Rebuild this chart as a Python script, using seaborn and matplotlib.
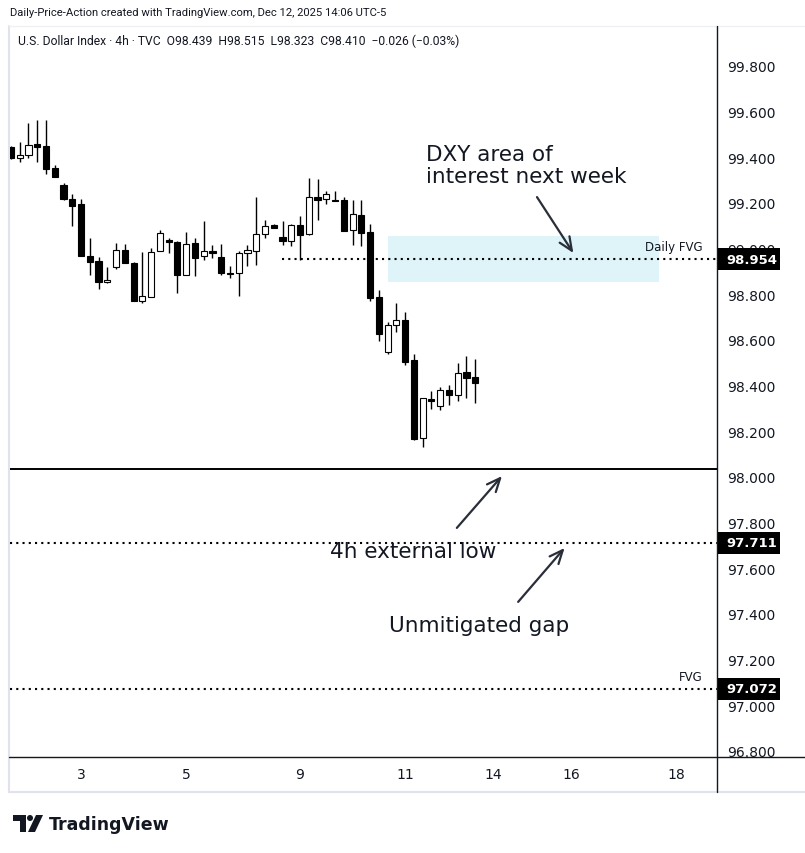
import numpy as np
import pandas as pd
import matplotlib
matplotlib.use('Agg')
import matplotlib.pyplot as plt
import matplotlib.transforms as mtransforms
from matplotlib.patches import Rectangle, Polygon, Circle
import seaborn as sns

sns.set_theme(style='white')
plt.rcParams['font.family'] = ['DejaVu Sans']

# ---------------- data ----------------
opens = [99.445, 99.396, 99.409, 99.458, 99.448, 99.353, 99.277, 99.217, 99.194, 98.967,
         98.945, 98.853, 98.918, 98.993, 98.937, 98.772, 98.790, 98.988, 99.038, 99.029,
         98.883, 99.025, 98.966, 98.990, 98.962, 98.893, 98.892, 98.980, 98.988, 99.063,
         99.102, 99.050, 99.035, 99.102, 99.063, 99.225, 99.216, 99.213, 99.212, 99.080,
         99.146, 99.072, 98.788, 98.549, 98.664, 98.686, 98.511, 98.169, 98.342, 98.312,
         98.380, 98.358, 98.460, 98.439]
highs = [99.450, 99.466, 99.550, 99.564, 99.564, 99.366, 99.288, 99.239, 99.217, 99.047,
         98.962, 98.918, 99.023, 99.020, 98.943, 98.985, 99.002, 99.082, 99.048, 99.032,
         99.073, 99.047, 99.121, 99.016, 99.020, 98.924, 98.990, 99.015, 99.226, 99.126,
         99.108, 99.121, 99.108, 99.143, 99.309, 99.305, 99.253, 99.253, 99.225, 99.212,
         99.212, 99.108, 98.819, 98.678, 98.761, 98.721, 98.539, 98.345, 98.377, 98.394,
         98.403, 98.499, 98.529, 98.515]
lows = [99.393, 99.378, 99.396, 99.378, 99.328, 99.315, 99.214, 99.101, 98.966, 98.886,
        98.822, 98.848, 98.910, 98.936, 98.772, 98.763, 98.790, 98.988, 98.982, 98.806,
        98.883, 98.882, 98.952, 98.959, 98.886, 98.873, 98.794, 98.923, 98.930, 99.048,
        99.092, 99.017, 99.013, 98.952, 99.059, 99.127, 99.194, 99.207, 99.076, 99.018,
        99.010, 98.770, 98.594, 98.537, 98.636, 98.492, 98.163, 98.133, 98.298, 98.293,
        98.315, 98.332, 98.346, 98.323]
closes = [99.396, 99.409, 99.454, 99.444, 99.350, 99.315, 99.219, 99.188, 98.966, 98.943,
          98.853, 98.864, 98.993, 98.936, 98.772, 98.791, 98.985, 99.069, 99.030, 98.885,
          99.020, 98.960, 98.988, 98.982, 98.892, 98.890, 98.980, 98.993, 99.063, 99.101,
          99.092, 99.035, 99.102, 99.059, 99.225, 99.214, 99.238, 99.210, 99.076, 99.150,
          99.067, 98.783, 98.628, 98.664, 98.686, 98.505, 98.166, 98.345, 98.332, 98.380,
          98.358, 98.454, 98.432, 98.410]

date_labels = ['3', '5', '9', '11', '14', '16', '18']
date_bar_index = [8, 20, 33, 45, 55, 64, 76]
price_ticks = [96.8, 97.0, 97.2, 97.4, 97.6, 97.8, 98.0, 98.2, 98.4, 98.6, 98.8, 99.0,
               99.2, 99.4, 99.6, 99.8]

external_low = 98.035
unmitigated_gap = 97.711
fvg_level = 97.072
daily_fvg_level = 98.954
zone_top, zone_bottom = 99.055, 98.854
zone_start, zone_end = 43.0, 73.97
daily_fvg_start = 30.9

header1 = "Daily-Price-Action created with TradingView.com, Dec 12, 2025 14:06 UTC-5"
header2 = "U.S. Dollar Index \u00b7 4h \u00b7 TVC  O98.439  H98.515  L98.323  C98.410  \u22120.026 (\u22120.03%)"

df = pd.DataFrame({'open': opens, 'high': highs, 'low': lows, 'close': closes})
df['idx'] = np.arange(len(df))
df['up'] = df['close'] >= df['open']

# ---------------- figure ----------------
W, H = 805, 854
fig = plt.figure(figsize=(W / 100, H / 100), dpi=100)
fig.patch.set_facecolor('white')

ov = fig.add_axes([0, 0, 1, 1], zorder=0)
ov.set_xlim(0, W)
ov.set_ylim(H, 0)
ov.axis('off')

L, R, T, B = 10, 717, 28, 758
ax = fig.add_axes([L / W, 1 - B / H, (R - L) / W, (B - T) / H], zorder=1)
ax.set_facecolor('none')
for s in ax.spines.values():
    s.set_visible(False)

DARK = '#131722'

# frame lines
ov.plot([9, 9], [27, 793], color='#e0e3eb', lw=1.5)
ov.plot([9, 805], [793, 793], color='#e0e3eb', lw=1.5)
ov.plot([9, 805], [27, 27], color='#eef0f3', lw=1.0)
ov.plot([717, 717], [27, 793], color=DARK, lw=1.0)
ov.plot([9, 805], [758, 758], color=DARK, lw=1.0)

# candles
ax.vlines(df['idx'], df['low'], df['high'], color='black', lw=1.0, zorder=3)
body_bottom = np.minimum(df['open'], df['close'])
body_h = np.maximum(np.abs(df['close'] - df['open']), 0.0045)
face = np.where(df['up'], 'white', 'black')
ax.bar(df['idx'], body_h, bottom=body_bottom, width=0.70, color=face,
       edgecolor='black', linewidth=0.8, zorder=4)

ax.set_xlim(-0.11, 80.6)
ax.set_ylim(96.7737, 99.9708)

# zone and levels
ax.add_patch(Rectangle((zone_start, zone_bottom), zone_end - zone_start, zone_top - zone_bottom,
                       facecolor='#def4f9', edgecolor='none', zorder=1))
ax.plot([daily_fvg_start, 80.6], [daily_fvg_level] * 2, color='black', lw=1.5,
        linestyle=(0, (1, 2)), zorder=2)
ax.axhline(external_low, color='black', lw=1.4, zorder=2)
ax.axhline(unmitigated_gap, color='black', lw=1.5, linestyle=(0, (1, 2)), zorder=2)
ax.axhline(fvg_level, color='black', lw=1.5, linestyle=(0, (1, 2)), zorder=2)

ax.text(79.0, daily_fvg_level + 0.027, 'Daily FVG', ha='right', va='bottom', fontsize=8.5, color=DARK)
ax.text(79.0, fvg_level + 0.027, 'FVG', ha='right', va='bottom', fontsize=8.5, color=DARK)

# axes ticks
ax.set_xticks(date_bar_index)
ax.set_xticklabels(date_labels)
ax.yaxis.tick_right()
ax.set_yticks(price_ticks)
ax.set_yticklabels([f'{v:.3f}' for v in price_ticks])
ax.tick_params(axis='y', length=0, pad=7.2, labelsize=10, labelcolor=DARK)
ax.tick_params(axis='x', length=0, pad=7, labelsize=10, labelcolor=DARK)
ax.grid(False)

# price boxes
blend = mtransforms.blended_transform_factory(ax.transAxes, ax.transData)
for lvl in [daily_fvg_level, unmitigated_gap, fvg_level]:
    ax.add_patch(Rectangle((1.0015, lvl - 0.048), 0.088, 0.096, transform=blend,
                           facecolor='black', edgecolor='none', clip_on=False, zorder=10))
    ax.text(1.0135, lvl, f'{lvl:.3f}', transform=blend, ha='left', va='center',
            fontsize=9.5, fontweight='bold', color='white', clip_on=False, zorder=11)

# annotations
txt_kw = dict(fontsize=15.5, color='#131722')
arrow = dict(arrowstyle='->,head_length=0.8,head_width=0.35', lw=1.6, color='#2a2e39',
             shrinkA=0, shrinkB=0)
ax.text(47.4, 99.366, 'DXY area of\ninterest next week', ha='left', va='center',
        linespacing=1.1, **txt_kw)
ax.annotate('', xy=(64.2, 98.981), xytext=(60.05, 99.226), arrowprops=arrow)
ax.text(45.9, 97.650, '4h external low', ha='center', va='baseline', **txt_kw)
ax.annotate('', xy=(56.05, 98.004), xytext=(50.9, 97.777), arrowprops=arrow)
ax.text(53.5, 97.325, 'Unmitigated gap', ha='center', va='baseline', **txt_kw)
ax.annotate('', xy=(63.2, 97.689), xytext=(57.9, 97.453), arrowprops=arrow)

# header texts
ov.text(10, 13, header1, ha='left', va='center', fontsize=8.1, color=DARK,
        family=['Roboto', 'DejaVu Sans'])
ov.text(18, 41, header2, ha='left', va='center', fontsize=8.7, color=DARK,
        family=['Roboto', 'DejaVu Sans'])

# TradingView logo
ov.add_patch(Polygon([(13, 816), (26, 816), (26, 833), (20, 833), (20, 822), (13, 822)],
                     closed=True, facecolor=DARK, edgecolor='none'))
ov.add_patch(Circle((30, 819), 3.0, facecolor=DARK, edgecolor='none'))
ov.add_patch(Polygon([(36, 816), (43, 816), (35, 833), (28, 833)], closed=True,
                     facecolor=DARK, edgecolor='none'))
ov.text(49, 825, 'TradingView', ha='left', va='center', fontsize=12.5, fontweight='bold',
        color=DARK)

fig.savefig('out.png', dpi=100, facecolor='white')
